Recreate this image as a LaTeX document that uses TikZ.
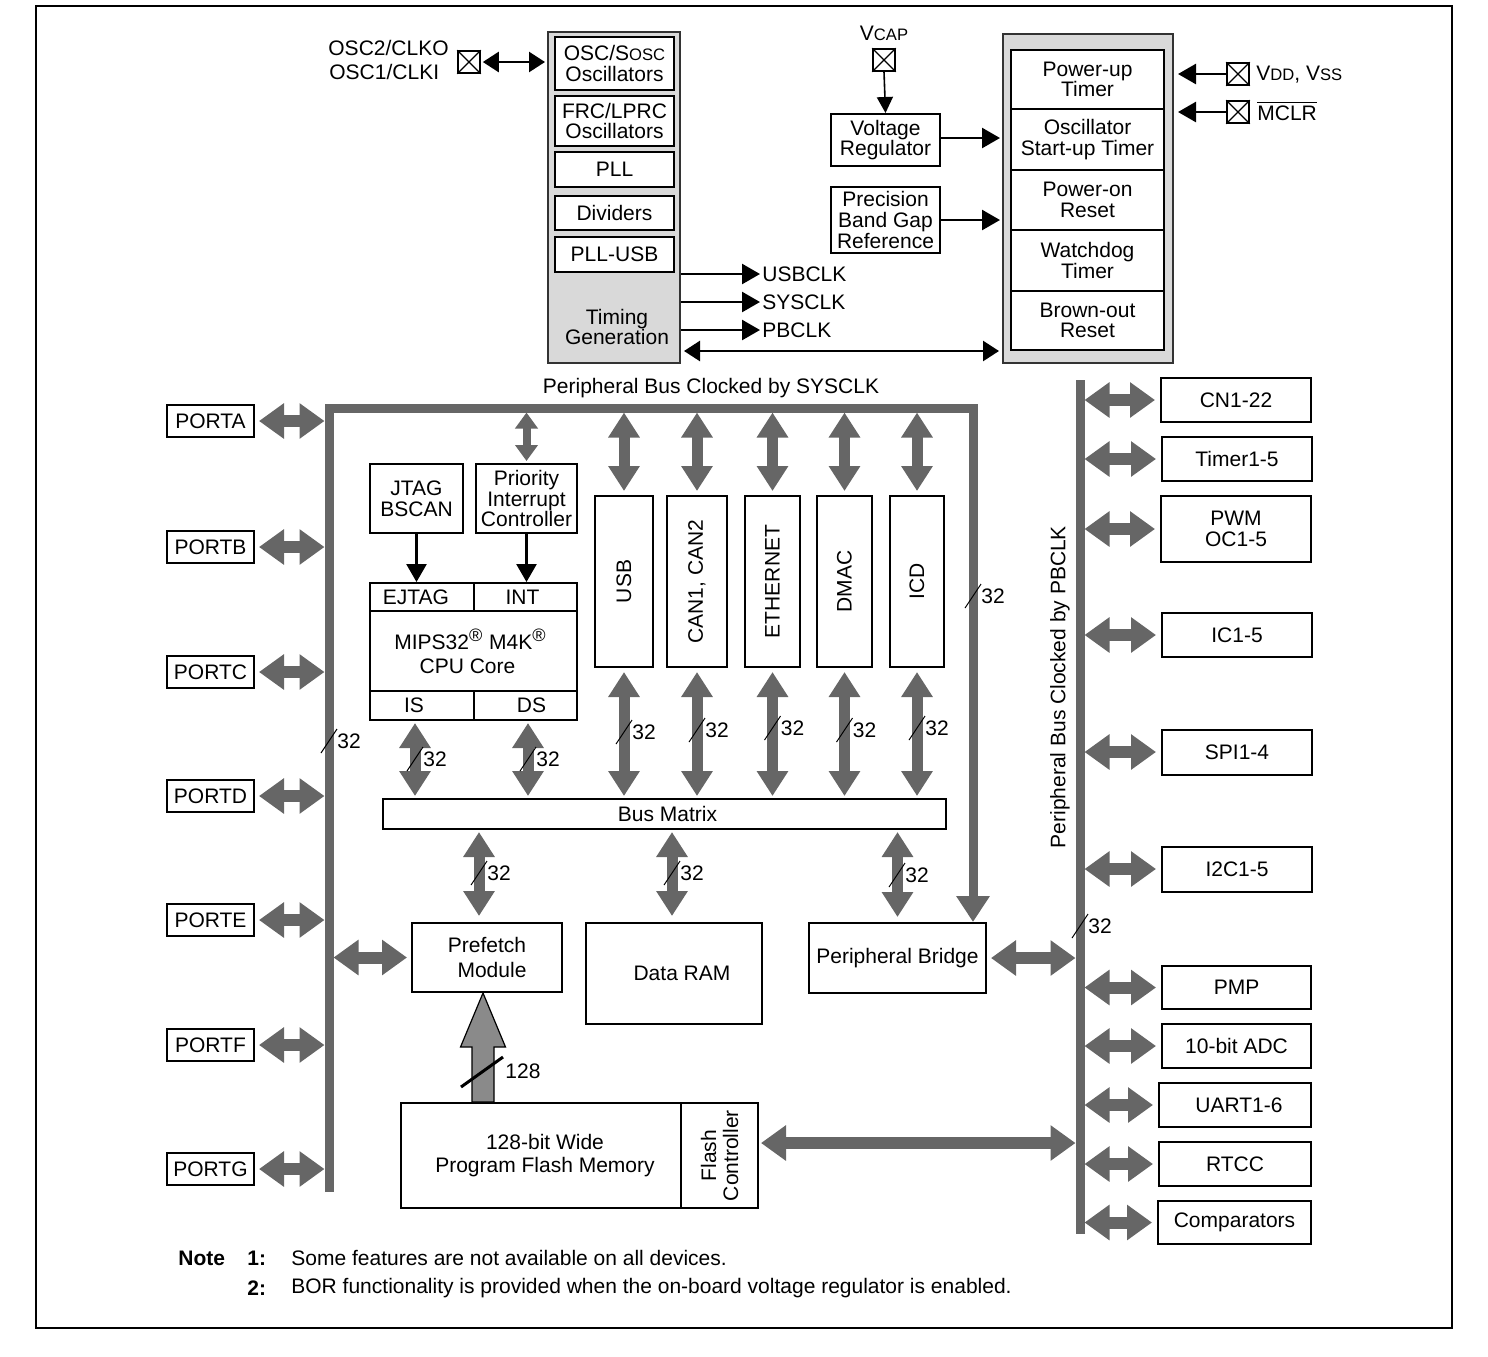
\documentclass[tikz,border=0pt]{standalone}
\usepackage{fontspec}
\setmainfont{Liberation Sans}
\usetikzlibrary{arrows.meta}
\definecolor{bgray}{HTML}{666666}
\definecolor{lgray}{HTML}{D9D9D9}
\definecolor{mgray}{HTML}{8A8A8A}
\newcommand\pinx[1]{\draw[line width=0.6pt] (#1.north west) -- (#1.south east) (#1.north east) -- (#1.south west);}
\newcommand\smc[1]{{\fontsize{8.3}{8.3}\selectfont #1}}
\tikzset{
 bx/.style n args={2}{draw,line width=1pt,inner sep=0pt,align=center,minimum width=#1*0.5pt,minimum height=#2*0.5pt},
 lbl/.style={inner sep=1pt,align=center},
 pinbox/.style={draw,line width=0.8pt,minimum size=11pt,inner sep=0pt},
 blk/.style={line width=1.3pt,-{Triangle[length=9pt,width=10pt]}},
 dblk/.style={line width=1.3pt,{Triangle[length=8pt,width=10pt]}-{Triangle[length=8pt,width=10pt]}},
 fat/.style={draw=bgray,line width=6pt,{Triangle[length=12.5pt,width=17pt]}-{Triangle[length=12.5pt,width=17pt]}},
 fatv/.style={draw=bgray,line width=5.5pt,{Triangle[length=12.5pt,width=15pt]}-{Triangle[length=12.5pt,width=15pt]}},
 fats/.style={draw=bgray,line width=4pt,{Triangle[length=8pt,width=11pt]}-{Triangle[length=8pt,width=11pt]}},
 wbus/.pic={\draw[line width=0.5pt] (-8,12) -- (8,-12); \node[anchor=west,inner sep=1pt] at (6,0) {32};},
}
\begin{document}
\begin{tikzpicture}[x=0.5pt,y=-0.5pt,font=\fontsize{10.5}{10.3}\selectfont]
\useasboundingbox (0,0) rectangle (1488,1356);
\draw[line width=1.1pt] (36,6) rectangle (1452,1328);

% ---------- clock group
\node[bx={132}{331},fill=lgray,draw=black!80] (tg) at (614,197.5) {};
\node[bx={119}{53},fill=white] (osc) at (614.5,63.5) {OSC/S\smc{OSC}\\Oscillators};
\node[bx={119}{50},fill=white] (frc) at (614.5,121) {FRC/LPRC\\Oscillators};
\node[bx={119}{35},fill=white] (pll) at (614.5,169.5) {PLL};
\node[bx={119}{34},fill=white] (div) at (614.5,213) {Dividers};
\node[bx={119}{35},fill=white] (pllusb) at (614.5,254.5) {PLL-USB};
\node[lbl] (tgt) at (617,327) {Timing\\Generation};

\node[lbl,anchor=west] (osc2) at (326,48) {OSC2/CLKO};
\node[lbl,anchor=west] (osc1) at (327,72) {OSC1/CLKI};
\node[pinbox] (oscp) at (469,62) {}; \pinx{oscp}
\draw[dblk,shorten <=1pt,shorten >=1pt] (oscp.east) -- (tg.west |- oscp.east);

\node[lbl,anchor=west] (usbclk) at (760,274) {USBCLK};
\node[lbl,anchor=west] (sysclk) at (760,302) {SYSCLK};
\node[lbl,anchor=west] (pbclk) at (760,330) {PBCLK};
\draw[blk] (tg.east |- usbclk.west) -- (usbclk.west);
\draw[blk] (tg.east |- sysclk.west) -- (sysclk.west);
\draw[blk] (tg.east |- pbclk.west) -- (pbclk.west);

% ---------- power group
\node[lbl] (vcap) at (884,33) {V\smc{CAP}};
\node[pinbox] (vcp) at (884,60) {}; \pinx{vcp}
\node[bx={109}{52}] (vreg) at (885.5,140) {Voltage\\Regulator};
\node[bx={109}{66}] (pbg) at (885.5,220) {Precision\\Band Gap\\Reference};
\draw[line width=0.8pt,-{Triangle[length=8pt,width=8pt]}] (vcp.south) -- (vreg.north);

\node[bx={170}{329},fill=lgray,draw=black!80] (pwr) at (1088,198.5) {};
\node[bx={153}{59},fill=white] (put) at (1087.5,79.5) {Power-up\\Timer};
\node[bx={153}{61},fill=white] (ost) at (1087.5,139.5) {Oscillator\\Start-up Timer};
\node[bx={153}{60},fill=white] (por) at (1087.5,200) {Power-on\\Reset};
\node[bx={153}{61},fill=white] (wdt) at (1087.5,260.5) {Watchdog\\Timer};
\node[bx={153}{59},fill=white] (bor) at (1087.5,320.5) {Brown-out\\Reset};

\draw[blk,shorten >=1pt] ([yshift=1pt]vreg.east) -- ([yshift=1pt]vreg.east -| pwr.west);
\draw[blk,shorten >=1pt] (pbg.east) -- (pbg.east -| pwr.west);
\coordinate (yb) at (0,351);
\draw[dblk,shorten <=1.5pt,shorten >=1.5pt] (tg.east |- yb) -- (pwr.west |- yb);

\node[pinbox] (vddp) at (1238,74) {}; \pinx{vddp}
\node[pinbox] (mclrp) at (1238,112) {}; \pinx{mclrp}
\node[lbl,anchor=west] (vdd) at (1254,75) {V\smc{DD}, V\smc{SS}};
\node[lbl,anchor=west] (mclr) at (1255,111) {$\overline{\mbox{MCLR}}$};
\draw[blk,shorten >=2pt] (vddp.west) -- (vddp.west -| pwr.east);
\draw[blk,shorten >=2pt] (mclrp.west) -- (mclrp.west -| pwr.east);

% ---------- SYSCLK bus
\node[lbl] (sysbus) at (711,388) {Peripheral Bus Clocked by SYSCLK};
\node[bx={177}{70}] (br) at (897.5,958) {Peripheral Bridge};
\coordinate (sbx) at (973,0);
\draw[bgray,line width=4.5pt,line join=miter,-{Triangle[length=13pt,width=16pt]}]
  (329,1192) -- (329,408) -- (973,408) -- (sbx |- br.north);
\pic at (329,741) {wbus};
\pic at (973,596) {wbus};

\coordinate (sbL) at (324.5,0);
\coordinate (sbR) at (333.5,0);
\coordinate (sbT) at (0,412.5);

% ports
\foreach \n/\y in {A/421,B/547,C/672,D/796,E/920,F/1045,G/1169}{
  \node[bx={87}{32}] (port\n) at (210.5,\y) {PORT\n};
  \draw[fat,shorten <=2pt] (port\n.east) -- (port\n.east -| sbL);
}

% CPU and friends
\node[bx={93}{69}] (jtag) at (416.5,498.5) {JTAG\\BSCAN};
\node[bx={101}{69}] (pic) at (526.5,498.5) {Priority\\Interrupt\\Controller};
\node[bx={207}{137}] (cpu) at (473.5,651.5) {MIPS32\textsuperscript{\fontsize{9}{9}\selectfont ®} M4K\textsuperscript{\fontsize{9}{9}\selectfont ®}\hspace*{3pt}\\[2pt]CPU Core\hspace*{6pt}};
\node[bx={104}{28}] (ejtag) at (422,597) {EJTAG\hspace*{6pt}};
\node[bx={103}{28}] (int) at (525.5,597) {INT\hspace*{3pt}};
\node[bx={104}{29}] (is) at (422,705.5) {IS\hspace*{8pt}};
\node[bx={103}{29}] (ds) at (525.5,705.5) {\hspace*{6pt}DS};
\draw[blk] (jtag.south) -- (jtag.south |- ejtag.north);
\draw[blk] (pic.south) -- (pic.south |- int.north);
\draw[fats,shorten >=1pt] (pic.north |- sbT) -- (pic.north);

% peripherals on SYSCLK bus
\node[bx={563}{30}] (bm) at (664.5,814) {\hspace*{3pt}Bus Matrix};
\node[bx={58}{171}] (usb) at (624,581.5) {};
\node[bx={60}{171}] (can) at (697,581.5) {};
\node[bx={55}{171}] (eth) at (772.5,581.5) {};
\node[bx={55}{171}] (dmac) at (844.5,581.5) {};
\node[bx={54}{171}] (icd) at (917,581.5) {};
\node[lbl,rotate=90] (usbt) at (usb) {USB};
\node[lbl,rotate=90] (cant) at (can) {CAN1, CAN2};
\node[lbl,rotate=90] (etht) at (eth) {ETHERNET};
\node[lbl,rotate=90] (dmact) at (dmac) {DMAC};
\node[lbl,rotate=90] (icdt) at (icd) {ICD};
\foreach \p/\ly in {usb/731,can/729,eth/727,dmac/729,icd/727}{
  \draw[fatv,shorten >=2pt] (\p.north |- sbT) -- (\p.north);
  \draw[fatv,shorten <=2pt,shorten >=1pt] (\p.south) -- (\p.south |- bm.north);
  \path (\p.south) ++(0,\ly-667) pic {wbus};
}
\draw[fatv,shorten <=1pt,shorten >=1pt] ([xshift=-3.5pt]is.south) -- ([xshift=-3.5pt]is.south |- bm.north);
\draw[fatv,shorten <=1pt,shorten >=1pt] ([xshift=1.25pt]ds.south) -- ([xshift=1.25pt]ds.south |- bm.north);
\pic at (415,759) {wbus};
\pic at (528,759) {wbus};

% below bus matrix
\node[bx={150}{69}] (pre) at (487,957.5) {Prefetch\\[2pt]\hspace*{5pt}Module};
\node[bx={176}{101}] (dram) at (674,973.5) {\hspace*{8pt}Data RAM};
\draw[fatv,shorten <=1pt,shorten >=3pt] ([xshift=-4pt]pre.north |- bm.south) -- ([xshift=-4pt]pre.north);
\draw[fatv,shorten <=1pt,shorten >=3pt] ([xshift=-1pt]dram.north |- bm.south) -- ([xshift=-1pt]dram.north);
\draw[fatv,shorten <=1pt,shorten >=2.5pt] (br.north |- bm.south) -- (br.north);
\pic at (479,873) {wbus};
\pic at (672,873) {wbus};
\pic at (897,875) {wbus};
\draw[fat,shorten >=2pt] (pre.west -| sbR) -- (pre.west);

% flash
\node[bx={280}{105}] (fm) at (541,1155.5) {\hspace*{4pt}128-bit Wide\\[1.5pt]\hspace*{4pt}Program Flash Memory};
\node[bx={77}{105}] (fc) at (719.5,1155.5) {};
\node[lbl,rotate=90,font=\fontsize{10.5}{11}\selectfont] (fct) at (fc) {Flash\\Controller};
\coordinate (t128) at ([xshift=-2pt]pre.south);
\coordinate (hb) at ([yshift=-27pt]t128);
\coordinate (sL) at ([xshift=-5.5pt]t128);
\coordinate (sR) at ([xshift=5.5pt]t128);
\coordinate (hL) at ([xshift=-11.25pt]hb);
\coordinate (hR) at ([xshift=11.25pt]hb);
\draw[fill=mgray,line width=0.6pt] (t128) -- (hR) -- (sR |- hb) -- (sR |- fm.north) -- (sL |- fm.north) -- (sL |- hb) -- (hL) -- cycle;
\draw[line width=1.5pt] (461,1087) -- (503,1057);
\node[lbl,anchor=west] (w128) at (503,1071) {128};

% ---------- PBCLK bus
\draw[bgray,line width=4.5pt] (1080,380) -- (1080,1234);
\node[lbl,rotate=90] (pbbus) at (1060,687) {Peripheral Bus Clocked by PBCLK};
\pic at (1080,926) {wbus};
\coordinate (pbL) at (1075.5,0);
\coordinate (pbR) at (1084.5,0);
\draw[fat,shorten <=2pt] (br.east) -- (br.east -| pbL);
\coordinate (yf) at (0,1143);
\draw[fat,shorten <=1pt] (fc.east |- yf) -- (pbL |- yf);

\node[bx={150}{44}] (cn) at (1236,400) {CN1-22};
\node[bx={150}{44}] (tmr) at (1237,459) {Timer1-5};
\node[bx={150}{66}] (pwm) at (1236,529) {PWM\\OC1-5};
\node[bx={150}{44}] (ic) at (1237,635) {IC1-5};
\node[bx={150}{45}] (spi) at (1237,752) {SPI1-4};
\node[bx={150}{45}] (i2c) at (1237,869) {I2C1-5};
\node[bx={149}{43}] (pmp) at (1236.5,987.5) {PMP};
\node[bx={149}{44}] (adc) at (1236.5,1046) {10-bit ADC};
\node[bx={152}{44}] (uart) at (1235,1105) {\hspace*{4pt}UART1-6};
\node[bx={152}{44}] (rtcc) at (1235,1164) {RTCC};
\node[bx={153}{43}] (comp) at (1234.5,1222.5) {Comparators};
\foreach \p in {cn,tmr,pwm,ic,spi,i2c,pmp,adc,uart,rtcc,comp}{
  \draw[fat,shorten >=2.5pt] (\p.west -| pbR) -- (\p.west);
}

% ---------- notes
\node[lbl,anchor=west,font=\fontsize{10.5}{10.5}\selectfont\bfseries] (note) at (176,1258) {Note};
\node[lbl,anchor=west,font=\fontsize{10.5}{10.5}\selectfont\bfseries] (n1) at (245,1258) {1:};
\node[lbl,anchor=west,font=\fontsize{10.5}{10.5}\selectfont\bfseries] (n2) at (245,1288) {2:};
\node[lbl,anchor=west] (t1) at (289,1258) {Some features are not available on all devices.};
\node[lbl,anchor=west] (t2) at (289,1288) {BOR functionality is provided when the on-board voltage regulator is enabled.};
\end{tikzpicture}
\end{document}
